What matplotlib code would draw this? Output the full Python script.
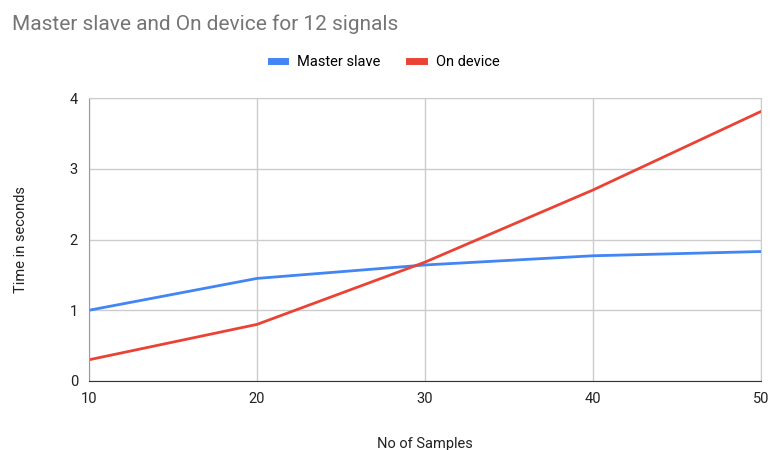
import matplotlib
matplotlib.use('Agg')
import matplotlib.pyplot as plt

samples = [10, 20, 30, 40, 50]
master_slave = [1.0, 1.45, 1.64, 1.77, 1.83]
on_device = [0.3, 0.8, 1.68, 2.7, 3.81]

plt.rcParams['font.family'] = ['Roboto', 'DejaVu Sans']

fig = plt.figure(figsize=(7.7, 4.5), dpi=100)
ax = fig.add_axes([89 / 770, 1 - 381 / 450, 672 / 770, 283 / 450])

ax.plot(samples, master_slave, color='#4285F4', lw=2, label='Master slave')
ax.plot(samples, on_device, color='#EA4335', lw=2, label='On device')

ax.set_xlim(10, 50)
ax.set_ylim(0, 4)
ax.set_xticks([10, 20, 30, 40, 50])
ax.set_yticks([0, 1, 2, 3, 4])
ax.grid(True, color='#cccccc', lw=1)
ax.set_axisbelow(True)
for s in ['top', 'right']:
    ax.spines[s].set_color('#cccccc')
ax.spines['left'].set_color('#999999')
ax.spines['bottom'].set_color('#333333')
ax.tick_params(length=0, labelsize=10.5, pad=8, colors='#222222')

ax.set_xlabel('No of Samples', fontsize=10.5, labelpad=22, color='#222222')
ax.set_ylabel('Time in seconds', fontsize=10.5, labelpad=30, color='#222222')

fig.text(12 / 770, 1 - 24 / 450, 'Master slave and On device for 12 signals',
         fontsize=15, color='#757575', va='center', ha='left')

leg = fig.legend(loc='center', bbox_to_anchor=(0.5, 1 - 62 / 450), ncol=2,
                 frameon=False, fontsize=10.5, handlelength=1.0, handletextpad=0.8,
                 columnspacing=2.0)
for h in leg.legend_handles:
    h.set_linewidth(5)

fig.savefig('out.png', dpi=100)
